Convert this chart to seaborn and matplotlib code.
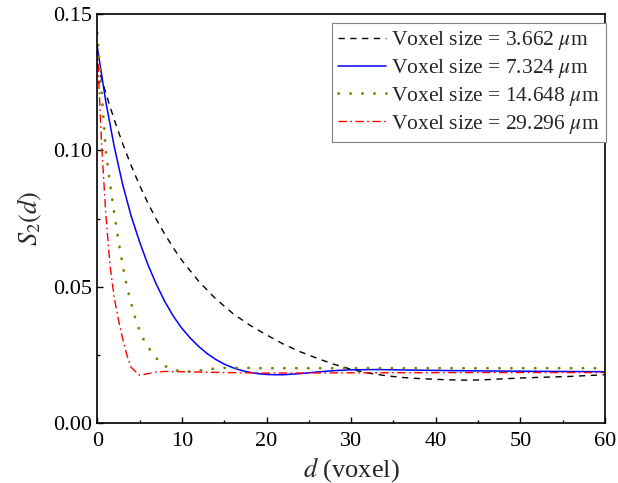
import numpy as np
import pandas as pd
import seaborn as sns
import matplotlib
matplotlib.use("Agg")
import matplotlib.pyplot as plt
from matplotlib.ticker import MultipleLocator, FormatStrFormatter

# --- data ---
labels = [r"Voxel size = 3.662 $\mu$m",
          r"Voxel size = 7.324 $\mu$m",
          r"Voxel size = 14.648 $\mu$m",
          r"Voxel size = 29.296 $\mu$m"]

d_a = [0, 1, 2, 3, 4, 5, 6, 7, 8, 9, 10, 12, 14, 16, 18, 20, 22, 24, 26, 28, 30,
       32, 34, 36, 38, 40, 42, 44, 46, 48, 50, 52, 54, 56, 58, 60]
s_a = [0.1318, 0.1211, 0.1113, 0.1025, 0.0945, 0.0872, 0.0806, 0.0746, 0.0692,
       0.0642, 0.0597, 0.0520, 0.0456, 0.0403, 0.0360, 0.0324, 0.0290, 0.0262,
       0.0238, 0.0216, 0.0198, 0.0184, 0.0175, 0.0168, 0.0164, 0.0161, 0.0159,
       0.0158, 0.0160, 0.0163, 0.0166, 0.0168, 0.0170, 0.0172, 0.0175, 0.0178]

d_b = [0, 1, 2, 3, 4, 5, 6, 7, 8, 9, 10, 11, 12, 13, 14, 15, 16, 17, 18, 19,
       20, 21, 22, 24, 26, 28, 30, 33, 37, 45, 50, 60]
s_b = [0.138, 0.118, 0.1015, 0.0875, 0.0760, 0.0665, 0.0580, 0.0508, 0.0445,
       0.0392, 0.0348, 0.0312, 0.0281, 0.0255, 0.0234, 0.0217, 0.0204, 0.0194,
       0.0187, 0.0182, 0.0179, 0.0178, 0.0178, 0.0182, 0.0188, 0.0193, 0.0196,
       0.0197, 0.0195, 0.0192, 0.0191, 0.0189]

d_c = [0, 0.5, 1, 1.5, 2, 2.5, 3, 3.5, 4, 4.5, 5, 5.5, 6, 6.5, 7, 7.5, 8, 9, 10,
       11, 12, 13, 14, 15, 17, 20, 30, 60]
s_c = [0.143, 0.122, 0.100, 0.088, 0.077, 0.067, 0.058, 0.050, 0.0440, 0.0385,
       0.0340, 0.0305, 0.0280, 0.0258, 0.0238, 0.0222, 0.0210, 0.0196, 0.0190,
       0.0190, 0.0193, 0.0197, 0.0201, 0.0203, 0.0203, 0.0202, 0.0202, 0.0202]

d_d = [0, 0.5, 1, 1.5, 2, 2.5, 3, 3.5, 4, 5, 6, 7, 8, 10, 15, 20, 30, 45, 60]
s_d = [0.138, 0.103, 0.077, 0.058, 0.046, 0.038, 0.031, 0.025, 0.0205, 0.0176,
       0.0182, 0.0188, 0.0190, 0.0189, 0.0186, 0.0184, 0.0185, 0.0186, 0.0186]

colors = ["black", "#0000ff", "#808000", "#ff0000"]
styles = [(0, (4.5, 4)), "-", (0, (0.1, 4.2)), (0, (6, 2.5, 1.2, 2.5))]
widths = [1.0, 1.1, 2.0, 1.0]
caps = ["butt", "butt", "round", "butt"]

sns.set_theme(style="ticks")
plt.rcParams["font.family"] = ["Liberation Serif", "DejaVu Serif"]
plt.rcParams["mathtext.fontset"] = "stix"

fig = plt.figure(figsize=(6.18, 4.83), dpi=100)
ax = fig.add_axes([0.1574, 0.1236, 0.8216, 0.8474])

for d, s, lab, c, ls, lw, cap in zip([d_a, d_b, d_c, d_d], [s_a, s_b, s_c, s_d],
                                     labels, colors, styles, widths, caps):
    df = pd.DataFrame({"d": d, "S": s})
    sns.lineplot(data=df, x="d", y="S", ax=ax, color=c, linestyle=ls,
                 linewidth=lw, label=lab, estimator=None, sort=True,
                 dash_capstyle=cap)

ax.set_xlim(0, 60)
ax.set_ylim(0, 0.15)
ax.xaxis.set_major_locator(MultipleLocator(10))
ax.xaxis.set_minor_locator(MultipleLocator(5))
ax.yaxis.set_major_locator(MultipleLocator(0.05))
ax.yaxis.set_minor_locator(MultipleLocator(0.025))
ax.yaxis.set_major_formatter(FormatStrFormatter("%.2f"))
ax.tick_params(which="both", direction="in", top=False, right=False,
               labelsize=16, width=1.0, colors="black")
ax.tick_params(which="major", length=4)
ax.tick_params(which="minor", length=2)
ax.tick_params(axis="x", pad=6)
ax.tick_params(axis="y", pad=4)
for sp in ax.spines.values():
    sp.set_visible(True)
    sp.set_linewidth(1.2)
    sp.set_color("black")

ax.set_xlabel(r"$d$ (voxel)", fontsize=19, labelpad=3)
ax.set_ylabel(r"$S_2(d)$", fontsize=19, labelpad=6)

leg = ax.legend(loc="upper right", fontsize=15.5, frameon=True, fancybox=False,
                edgecolor="#808080", framealpha=1, handlelength=2.2,
                handletextpad=0.25, borderpad=0.3, labelspacing=0.22,
                borderaxespad=0.0,
                bbox_to_anchor=(1.002, 1 - 9 / 409))
leg.get_frame().set_linewidth(0.8)

fig.savefig("out.png", dpi=100)
